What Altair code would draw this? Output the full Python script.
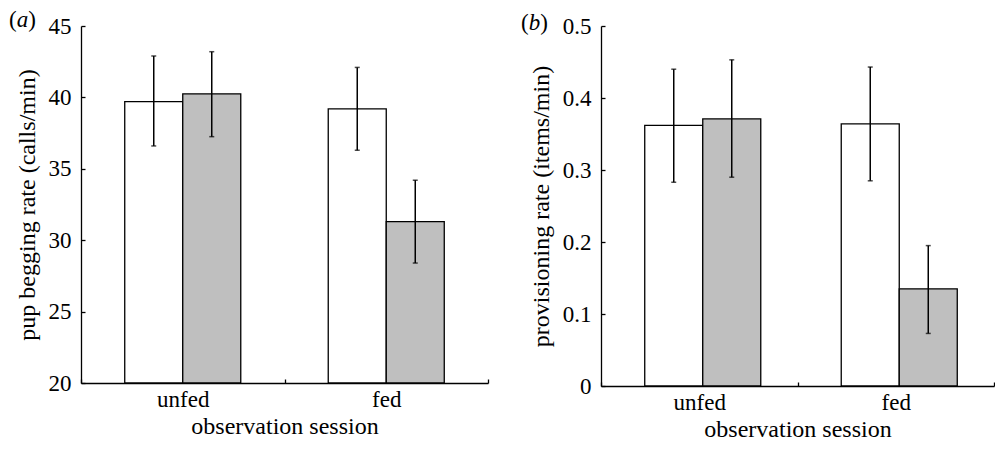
import altair as alt
import pandas as pd

sessions = ["unfed", "fed"]
groups = ["white", "grey"]
row_session = ["unfed", "unfed", "fed", "fed"]
row_group = ["white", "grey", "white", "grey"]

# panel (a): pup begging rate (calls/min)
beg_mean = [39.7, 40.25, 39.2, 31.3]
beg_lo = [36.6, 37.25, 36.3, 28.4]
beg_hi = [42.9, 43.2, 42.1, 34.2]
beg_ticks = [20, 25, 30, 35, 40, 45]

# panel (b): provisioning rate (items/min)
prov_mean = [0.362, 0.371, 0.364, 0.135]
prov_lo = [0.283, 0.290, 0.285, 0.073]
prov_hi = [0.440, 0.453, 0.443, 0.195]
prov_ticks = [0, 0.1, 0.2, 0.3, 0.4, 0.5]

FONT = "Liberation Serif, Times New Roman, Times, serif"
FS = 23
TFS = 24


def panel(mean, lo, hi, ticks, ytitle, letter, w, h, label_expr, lx, ly, po, align):
    df = pd.DataFrame({"session": row_session, "group": row_group,
                       "mean": mean, "lo": lo, "hi": hi})
    base = alt.Chart(df)
    x = alt.X("session:N", sort=sessions,
              scale=alt.Scale(paddingInner=0, paddingOuter=0),
              axis=alt.Axis(title="observation session", labelAngle=0,
                            tickBand="extent", tickSize=alt.ExprRef(expr="-4"),
                            labelPadding=9, titlePadding=3))
    xo = alt.XOffset("group:N", sort=groups,
                     scale=alt.Scale(paddingInner=0, paddingOuter=po, align=align))
    y = alt.Y("mean:Q",
              scale=alt.Scale(domain=[ticks[0], ticks[-1]], zero=False, nice=False),
              axis=alt.Axis(values=ticks, title=ytitle, labelExpr=label_expr,
                            tickSize=alt.ExprRef(expr="-4"), labelPadding=14,
                            titlePadding=9))
    bars = base.mark_bar(stroke="black", strokeWidth=1.3).encode(
        x=x, xOffset=xo, y=y, y2=alt.datum(ticks[0]),
        fill=alt.Fill("group:N", sort=groups,
                      scale=alt.Scale(domain=groups, range=["white", "#bfbfbf"]),
                      legend=None))
    err = base.mark_rule(color="black", strokeWidth=1.5).encode(
        x=x, xOffset=xo, y="lo:Q", y2="hi:Q")
    cap_lo = base.mark_tick(color="black", size=5, thickness=1.5).encode(
        x=x, xOffset=xo, y="lo:Q")
    cap_hi = base.mark_tick(color="black", size=5, thickness=1.5).encode(
        x=x, xOffset=xo, y="hi:Q")
    lab_df = pd.DataFrame({"k": [0]})
    lab = alt.Chart(lab_df)
    p1 = lab.mark_text(align="left", baseline="middle", font=FONT, fontSize=FS).encode(
        x=alt.value(lx), y=alt.value(ly), text=alt.value("("))
    p2 = lab.mark_text(align="left", baseline="middle", font=FONT, fontSize=FS,
                       fontStyle="italic").encode(
        x=alt.value(lx + 7.7), y=alt.value(ly), text=alt.value(letter))
    p3 = lab.mark_text(align="left", baseline="middle", font=FONT, fontSize=FS).encode(
        x=alt.value(lx + 19.2), y=alt.value(ly), text=alt.value(")"))
    return alt.layer(bars, err, cap_lo, cap_hi, p1, p2, p3).properties(width=w, height=h)


pa = panel(beg_mean, beg_lo, beg_hi, beg_ticks, "pup begging rate (calls/min)", "a",
           407, 357, "format(datum.value, 'd')", -72, -6, 0.754, 0.5)
pb = panel(prov_mean, prov_lo, prov_hi, prov_ticks, "provisioning rate (items/min)", "b",
           393, 360, "datum.value == 0 ? '0' : format(datum.value, '.1f')", -80, -3,
           0.685, 0.627)

chart = alt.hconcat(pa, pb, spacing=32).configure(
    font=FONT,
    padding={"left": 1, "top": 1, "right": 0, "bottom": 0},
    view=alt.ViewConfig(stroke=None),
    axis=alt.AxisConfig(
        labelFont=FONT, titleFont=FONT, labelFontSize=FS, titleFontSize=TFS,
        titleFontWeight="normal", labelColor="black", titleColor="black",
        domainColor="black", tickColor="black", domainWidth=1.3, tickWidth=1.3,
        grid=False),
)

chart.save("out.html", embed_options={"renderer": "svg", "actions": False})
